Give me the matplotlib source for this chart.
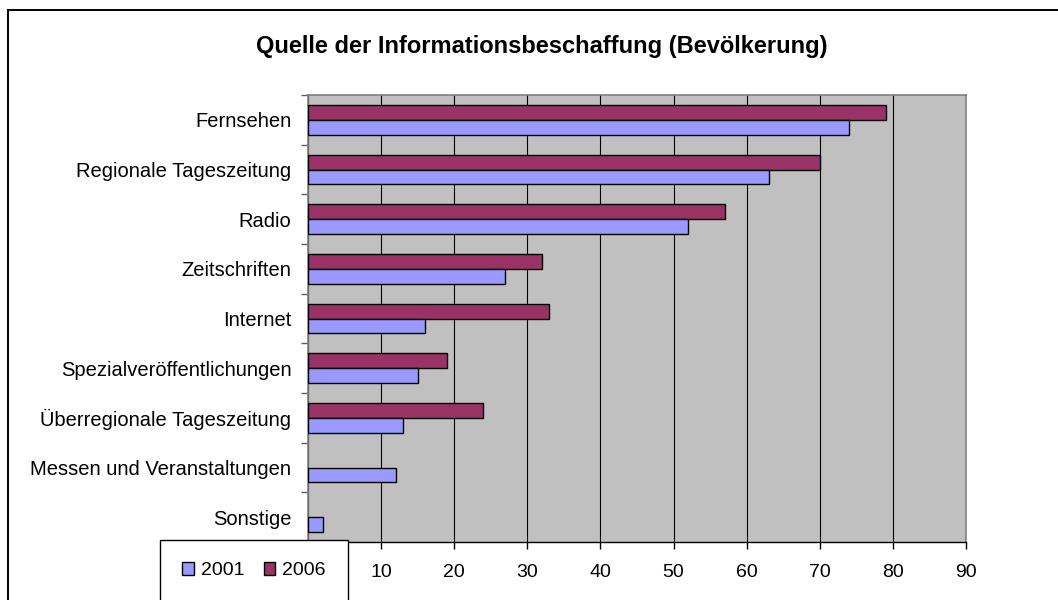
import matplotlib
matplotlib.use("Agg")
import matplotlib.pyplot as plt
import numpy as np
from matplotlib.patches import Patch
from matplotlib.lines import Line2D

plt.rcParams['font.family'] = ['Liberation Sans', 'DejaVu Sans']

categories = ["Fernsehen", "Regionale Tageszeitung", "Radio", "Zeitschriften",
              "Internet", "Spezialveröffentlichungen", "Überregionale Tageszeitung",
              "Messen und Veranstaltungen", "Sonstige"]
values_2001 = [74, 63, 52, 27, 16, 15, 13, 12, 2]
values_2006 = [79, 70, 57, 32, 33, 19, 24, 0, 0]
xticks = [0, 10, 20, 30, 40, 50, 60, 70, 80, 90]
xticklabels = ["", "10", "20", "30", "40", "50", "60", "70", "80", "90"]  # 0 sits under the legend

col_2001 = "#9999FF"
col_2006 = "#993366"

W, H = 1058, 600
fig = plt.figure(figsize=(W / 100, H / 100), dpi=100)
ax = fig.add_axes([308 / W, 1 - 542 / H, (966 - 308) / W, (542 - 95) / H])
ax.set_facecolor("#C0C0C0")

y = np.arange(len(categories))
bh = 0.3
edges_2006 = ["black" if v > 0 else "none" for v in values_2006]
edges_2001 = ["black" if v > 0 else "none" for v in values_2001]
ax.barh(y - bh / 2, values_2006, height=bh, color=col_2006, edgecolor=edges_2006,
        linewidth=1.0, zorder=3)
ax.barh(y + bh / 2, values_2001, height=bh, color=col_2001, edgecolor=edges_2001,
        linewidth=1.0, zorder=3)

ax.set_xlim(0, 90)
ax.set_ylim(len(categories) - 0.5, -0.5)
ax.set_xticks(xticks)
ax.set_xticklabels(xticklabels)
ax.set_yticks(y)
ax.set_yticklabels(categories)
ax.set_yticks(np.arange(-0.5, len(categories)), minor=True)
ax.tick_params(axis='y', which='major', length=0, pad=12, labelsize=14.5)
ax.tick_params(axis='y', which='minor', length=5, color="#606060", width=1)
ax.tick_params(axis='x', length=5, width=1, pad=11, labelsize=14)
ax.grid(axis='x', color="black", linewidth=0.8, zorder=1)
ax.set_axisbelow(True)

for s in ["top", "right", "left"]:
    ax.spines[s].set_color("#808080")
    ax.spines[s].set_linewidth(1.2)
ax.spines["bottom"].set_color("black")
ax.spines["bottom"].set_linewidth(1.0)

fig.text(542 / W, 1 - 47 / H, "Quelle der Informationsbeschaffung (Bevölkerung)",
         ha="center", va="center", fontsize=17, fontweight="bold")

# outer chart frame (top and left visible)
fig.add_artist(Line2D([7.5 / W, 7.5 / W], [0, 1 - 9.5 / H], color="black",
                      linewidth=1.4, transform=fig.transFigure))
fig.add_artist(Line2D([7.5 / W, 1], [1 - 9.5 / H, 1 - 9.5 / H], color="black",
                      linewidth=1.4, transform=fig.transFigure))

handles = [Patch(facecolor=col_2001, edgecolor="black", linewidth=1.0, label="2001"),
           Patch(facecolor=col_2006, edgecolor="black", linewidth=1.0, label="2006")]
leg = fig.legend(handles=handles, loc="upper left", ncol=2,
                 bbox_to_anchor=(160 / W, 1 - 540 / H), borderaxespad=0,
                 frameon=True, fancybox=False, edgecolor="black", framealpha=1,
                 fontsize=14, borderpad=1.15, handlelength=0.6, handleheight=0.6,
                 handletextpad=0.35, columnspacing=1.0)
leg.get_frame().set_linewidth(1.0)

fig.savefig("out.png", dpi=100)
